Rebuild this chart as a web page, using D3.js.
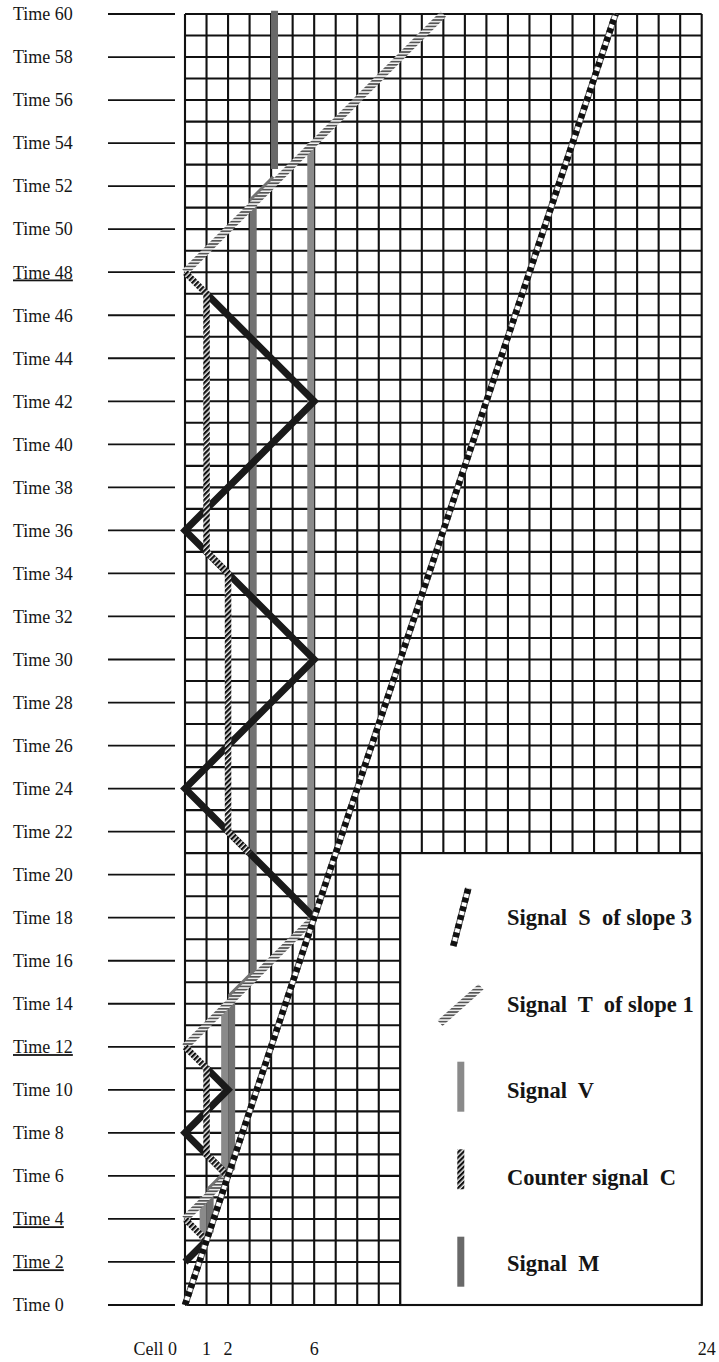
<!DOCTYPE html>
<html>
<head>
<meta charset="utf-8">
<script src="https://cdn.jsdelivr.net/npm/d3@7"></script>
<style>
  body { margin: 0; background: #fff; }
  svg { display: block; }
  text { font-family: "Liberation Serif", "Times New Roman", serif; fill: #151515; }
</style>
</head>
<body>
<svg id="chart" width="719" height="1362"></svg>
<script>
// tick labels
var timeTicks = [0, 2, 4, 6, 8, 10, 12, 14, 16, 18, 20, 22, 24, 26, 28, 30, 32, 34, 36, 38, 40, 42, 44, 46, 48, 50, 52, 54, 56, 58, 60];
var underlinedTimes = [2, 4, 12, 48];
var cellLabels = [1, 2, 6, 24];

// signals, as [cell, time] points
var signalS = [[0, 0], [20, 60]];
var signalT = [
    [[0, 4], [2, 6]],
    [[0, 12], [6, 18]],
    [[0, 48], [12, 60]]
];
var bounce = [
    [[0, 2], [1, 3]],
    [[2, 6], [0, 8], [2, 10], [1, 11]],
    [[6, 18], [0, 24], [6, 30], [0, 36], [6, 42], [1, 47]]
];
var counterC = [
    [[1, 3], [0, 4]],
    [[2, 6], [1, 7], [1, 11], [0, 12]],
    [[3, 21], [2, 22], [2, 34], [1, 35], [1, 47], [0, 48]]
];
var signalV = [
    [[1, 3], [1, 5]],
    [[2, 6], [2, 14]],
    [[6, 18], [6, 54]]
];
var movingV = [[1, 3], [1, 5], [2, 6], [2, 14], [3, 15], [3, 51], [4, 52]];
var signalM = [[4, 52.8], [4, 60.15]];

// legend box in grid units
var legendCells = [10, 24];
var legendTimes = [0, 21];
var legendNames = ['Signal  S  of slope 3', 'Signal  T  of slope 1', 'Signal  V', 'Counter signal  C', 'Signal  M'];

var svg = d3.select('#chart');

var x = d3.scaleLinear().domain([0, 24]).range([185, 701.7]);
var y = d3.scaleLinear().domain([0, 60]).range([1305, 14]);

var defs = svg.append('defs');
var pt = defs.append('pattern').attr('id', 'hatchT')
    .attr('patternUnits', 'userSpaceOnUse').attr('width', 4).attr('height', 3.2);
pt.append('rect').attr('width', 4).attr('height', 3.2).attr('fill', '#f4f4f4');
pt.append('rect').attr('width', 4).attr('height', 1.7).attr('fill', '#555');

var pc = defs.append('pattern').attr('id', 'hatchC')
    .attr('patternUnits', 'userSpaceOnUse').attr('width', 3.6).attr('height', 3.6)
    .attr('patternTransform', 'rotate(45)');
pc.append('rect').attr('width', 3.6).attr('height', 3.6).attr('fill', '#eee');
pc.append('rect').attr('width', 2.2).attr('height', 3.6).attr('fill', '#111');

// time labels + ticks
var tg = svg.append('g');
tg.selectAll('line').data(timeTicks).enter().append('line')
    .attr('x1', 108).attr('x2', 175)
    .attr('y1', d => y(d)).attr('y2', d => y(d))
    .attr('stroke', '#111').attr('stroke-width', 1.8);
tg.selectAll('text').data(timeTicks).enter().append('text')
    .attr('x', 13).attr('y', d => y(d) + 6.3)
    .attr('font-size', 18)
    .style('text-decoration', d => underlinedTimes.includes(d) ? 'underline' : 'none')
    .text(d => 'Time ' + d);

// grid
var grid = svg.append('g').attr('stroke', '#111').attr('stroke-width', 2.1);
grid.selectAll('.v').data(d3.range(0, 25)).enter().append('line')
    .attr('x1', d => x(d)).attr('x2', d => x(d)).attr('y1', y(0)).attr('y2', y(60));
grid.selectAll('.h').data(d3.range(0, 61)).enter().append('line')
    .attr('y1', d => y(d)).attr('y2', d => y(d)).attr('x1', x(0)).attr('x2', x(24));

// legend box (white, covers the grid)
svg.append('rect')
    .attr('x', x(legendCells[0])).attr('y', y(legendTimes[1]))
    .attr('width', x(legendCells[1]) - x(legendCells[0]))
    .attr('height', y(legendTimes[0]) - y(legendTimes[1]))
    .attr('fill', '#fff').attr('stroke', '#111').attr('stroke-width', 2.1);

function lineAt(dx, dy) {
    return d3.line().x(d => x(d[0]) + dx).y(d => y(d[1]) + dy);
}

var sig = svg.append('g').attr('fill', 'none');

// V (light, left of the cell line)
sig.selectAll('.vl').data(signalV).enter().append('path')
    .attr('d', lineAt(-3.4, 0)).attr('stroke', '#8a8a8a').attr('stroke-width', 7);
// moving V (darker, right of the cell line)
sig.append('path').datum(movingV)
    .attr('d', lineAt(3.6, -8)).attr('stroke', '#727272').attr('stroke-width', 7)
    .attr('stroke-linejoin', 'miter');
// M
sig.append('path').datum(signalM)
    .attr('d', lineAt(3.4, 0)).attr('stroke', '#696969').attr('stroke-width', 7);

// T
sig.selectAll('.t').data(signalT).enter().append('path')
    .attr('d', lineAt(0, 0)).attr('stroke', 'url(#hatchT)').attr('stroke-width', 7.5);

// bouncing black signal
sig.selectAll('.b').data(bounce).enter().append('path')
    .attr('d', lineAt(0, 0)).attr('stroke', '#1a1a1a').attr('stroke-width', 7)
    .attr('stroke-linejoin', 'miter');

// counter signal C
sig.selectAll('.c').data(counterC).enter().append('path')
    .attr('d', lineAt(0, 0)).attr('stroke', 'url(#hatchC)').attr('stroke-width', 6.5)
    .attr('stroke-linejoin', 'miter');

// S
sig.append('path').datum(signalS).attr('d', lineAt(0, 0))
    .attr('stroke', '#555').attr('stroke-width', 6.5);
sig.append('path').datum(signalS).attr('d', lineAt(0, 0))
    .attr('stroke', '#fff').attr('stroke-width', 4.5);
sig.append('path').datum(signalS).attr('d', lineAt(0, 0))
    .attr('stroke', '#111').attr('stroke-width', 6.5).attr('stroke-dasharray', '5,4');

// cell labels
svg.append('text').attr('x', 177).attr('y', 1355).attr('font-size', 18)
    .attr('text-anchor', 'end').text('Cell 0');
svg.selectAll('.cl').data(cellLabels).enter().append('text')
    .attr('x', d => x(d) + (d == 24 ? 5 : 0)).attr('y', 1355).attr('font-size', 18)
    .attr('text-anchor', 'middle').text(d => d);

// legend
var lx = 507, ly0 = 925, lstep = 86.5;
var leg = svg.append('g');
leg.selectAll('text').data(legendNames).enter().append('text')
    .attr('x', lx).attr('y', (d, i) => ly0 + i * lstep)
    .attr('font-size', 22.5).attr('font-weight', 'bold')
    .style('white-space', 'pre')
    .text(d => d);

// legend icons
var sIcon = [[453.3, 946], [468.3, 888.3]];
leg.append('line').attr('x1', sIcon[0][0]).attr('y1', sIcon[0][1]).attr('x2', sIcon[1][0]).attr('y2', sIcon[1][1])
    .attr('stroke', '#555').attr('stroke-width', 6.5);
leg.append('line').attr('x1', sIcon[0][0]).attr('y1', sIcon[0][1]).attr('x2', sIcon[1][0]).attr('y2', sIcon[1][1])
    .attr('stroke', '#fff').attr('stroke-width', 4.5);
leg.append('line').attr('x1', sIcon[0][0]).attr('y1', sIcon[0][1]).attr('x2', sIcon[1][0]).attr('y2', sIcon[1][1])
    .attr('stroke', '#111').attr('stroke-width', 6.5).attr('stroke-dasharray', '5,4');
leg.append('line').attr('x1', 440).attr('y1', 1023.3).attr('x2', 481).attr('y2', 986.7)
    .attr('stroke', 'url(#hatchT)').attr('stroke-width', 7.5);
leg.append('rect').attr('x', 457.3).attr('y', 1061.7).attr('width', 7).attr('height', 50).attr('fill', '#8a8a8a');
leg.append('rect').attr('x', 457.3).attr('y', 1149.3).attr('width', 7).attr('height', 40).attr('fill', 'url(#hatchC)');
leg.append('rect').attr('x', 457.3).attr('y', 1236.7).attr('width', 7).attr('height', 50).attr('fill', '#696969');
</script>
</body>
</html>
